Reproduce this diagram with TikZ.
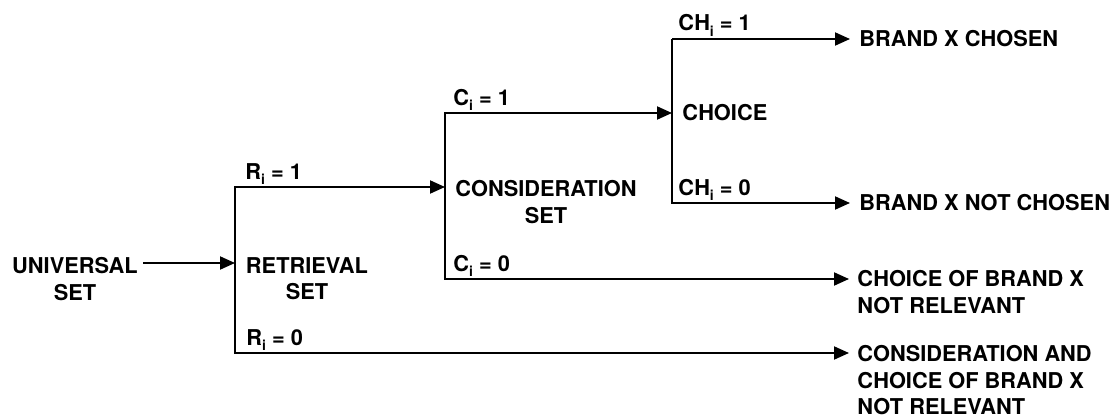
\documentclass[tikz,border=0pt]{standalone}
\usepackage{fontspec}
\setmainfont{TeX Gyre Heros}
\usetikzlibrary{arrows.meta}
\newcommand\lsub[1]{\raisebox{-0.5ex}{\fontsize{7}{7}\selectfont #1}}
\begin{document}
\begin{tikzpicture}[x=0.5pt,y=-0.5pt,
  txt/.style={inner sep=0pt,font=\fontsize{10.9}{13.3}\selectfont\bfseries},
  lbl/.style={txt,anchor=base west},
  ln/.style={line width=1pt,line join=miter},
  arr/.style={ln,-{Triangle[length=7.5pt,width=6.5pt]}},
  arr2/.style={ln,{Triangle[length=7.5pt,width=6.5pt]}-{Triangle[length=7.5pt,width=6.5pt]}}]
\useasboundingbox (0,0) rectangle (1118,417);
% text nodes
\node[txt,anchor=north,align=center] (univ) at (75,257) {UNIVERSAL\\SET};
\node[txt,anchor=north,align=center] (retr) at (307,257) {RETRIEVAL\\SET};
\node[txt,anchor=north,align=center] (cons) at (546,180) {CONSIDERATION\\SET};
\node[txt,anchor=west] (choice) at (682,113) {CHOICE};
\node[txt,anchor=west] (chosen) at (859,39) {BRAND X CHOSEN};
\node[txt,anchor=west] (notch) at (859,203) {BRAND X NOT CHOSEN};
\node[txt,anchor=north west,align=left] (nrel) at (857,270) {CHOICE OF BRAND X\\NOT RELEVANT};
\node[txt,anchor=north west,align=left] (cnrel) at (857,345) {CONSIDERATION AND\\CHOICE OF BRAND X\\NOT RELEVANT};
% skeleton coordinates
\coordinate (rIn) at (235,263);
\coordinate (rTop) at (235,187);
\coordinate (rBot) at (235,353);
\coordinate (cIn) at (445,187);
\coordinate (cTop) at (445,113);
\coordinate (cBot) at (445,279);
\coordinate (hIn) at (672,113);
\coordinate (hTop) at (672,39);
\coordinate (hBot) at (672,203);
% branch labels
\node[lbl] (r1) at (245,179) {R\lsub{i} = 1};
\node[lbl] (r0) at (246,345) {R\lsub{i} = 0};
\node[lbl] (c1) at (453,105) {C\lsub{i} = 1};
\node[lbl] (c0) at (453,271) {C\lsub{i} = 0};
\node[lbl] (h1) at (678,31) {CH\lsub{i} = 1};
\node[lbl] (h0) at (678,195) {CH\lsub{i} = 0};
% connectors
\draw[arr] ([xshift=2.5pt]univ.east |- rIn) -- (rIn);
\draw[arr2,shorten >=4pt] (cIn) -- (rTop) -- (rBot) -- (rBot -| cnrel.west);
\draw[arr2,shorten >=4pt] (hIn) -- (cTop) -- (cBot) -- (cBot -| nrel.west);
\draw[arr,shorten >=4.5pt] (hTop) -- (hTop -| chosen.west);
\draw[arr,shorten >=4.5pt] (hTop) -- (hBot) -- (hBot -| notch.west);
\end{tikzpicture}
\end{document}
